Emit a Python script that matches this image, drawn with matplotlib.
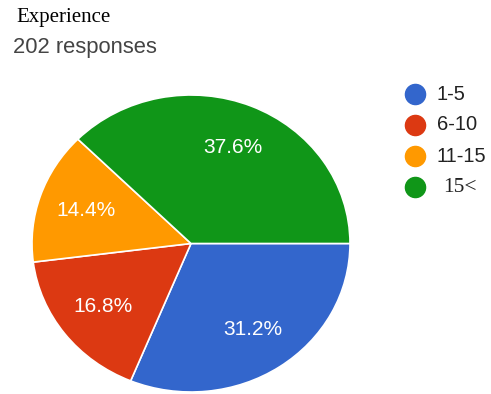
import matplotlib.pyplot as plt
from matplotlib.lines import Line2D

# Survey answers: years of experience
categories = ['1-5', '6-10', '11-15', '15<']
shares = [31.2, 16.8, 14.4, 37.6]
colors = ['#3366CC', '#DC3912', '#FF9900', '#109618']
n_responses = 202

W, H = 491, 394
fig = plt.figure(figsize=(W / 100, H / 100), dpi=100)

# pie sits in a slightly wide box, so it comes out a little oval
ax = fig.add_axes([32 / W, 2 / H, 318 / W, 297 / H])
wedges, texts, autotexts = ax.pie(
    shares, colors=colors, startangle=0, counterclock=False,
    autopct='%1.1f%%', pctdistance=0.7,
    wedgeprops=dict(edgecolor='white', linewidth=1.2),
    textprops=dict(color='white', fontsize=15, family='Liberation Sans'))
ax.set_aspect('auto')
ax.set_xlim(-1, 1)
ax.set_ylim(-1, 1)
ax.axis('off')

# titles
fig.text(16 / W, 1 - 22 / H, 'Experience', family='Liberation Serif',
         fontsize=15, color='black', va='baseline')
fig.text(13 / W, 1 - 53 / H, f'{n_responses} responses', family='Liberation Sans',
         fontsize=15.8, color='#444444', va='baseline')

# legend on the right
y0, step = 94, 31
for i, (label, color) in enumerate(zip(categories, colors)):
    y = 1 - (y0 + i * step) / H
    fig.add_artist(Line2D([415 / W], [y], marker='o', markersize=14.5,
                          color=color, linestyle='none', transform=fig.transFigure))
    if label == '15<':
        fig.text(443 / W, y, label, family='Liberation Serif', fontsize=15.5,
                 color='#222222', va='center')
    else:
        fig.text(437 / W, y, label, family='Liberation Sans', fontsize=14.5,
                 color='#222222', va='center')

fig.savefig('out.png', dpi=100)
